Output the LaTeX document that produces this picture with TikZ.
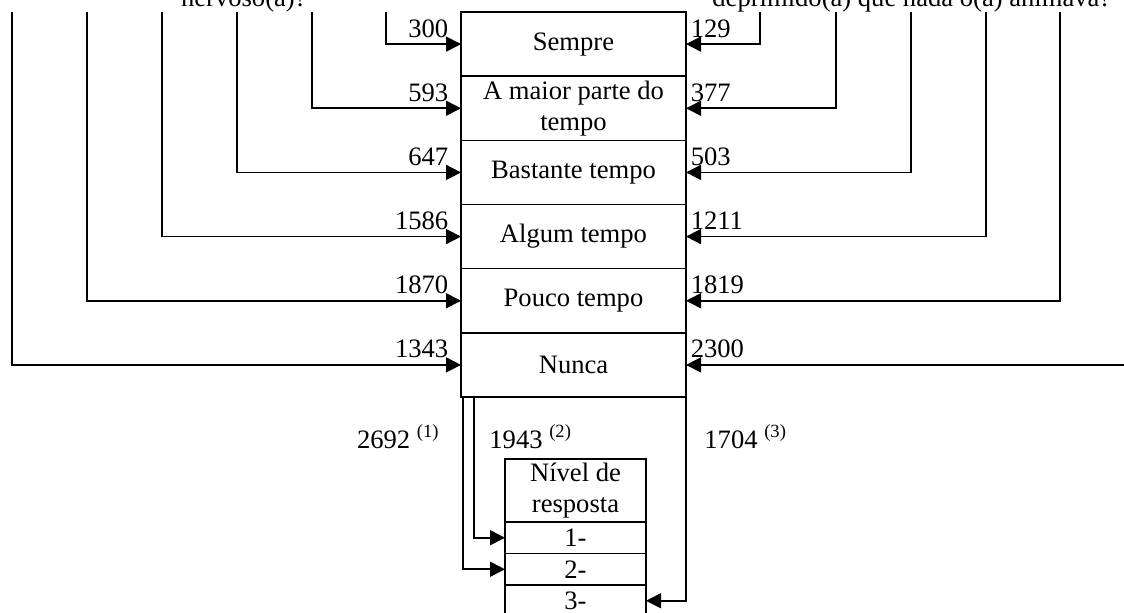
\documentclass[tikz,border=0pt]{standalone}
\usepackage{fontspec}
\setmainfont{Liberation Serif}
\usetikzlibrary{arrows.meta,positioning}
\newcommand{\txt}{\fontsize{13.3}{15.4}\selectfont}
\tikzset{
  cell/.style={
    rectangle, draw=black, line width=0.7pt, outer sep=0pt, inner sep=0pt,
    minimum width=112.5pt, minimum height=32.08pt,
    align=center, font=\txt
  },
  lvl/.style={cell, minimum width=70.5pt, minimum height=15.75pt},
  flow/.style={-{Triangle[length=7.5pt,width=7.5pt]}, line width=0.8pt, draw=black},
  numl/.style={font=\txt, inner xsep=6pt, inner ysep=3pt},
  numr/.style={font=\txt, inner xsep=2pt, inner ysep=3pt},
  note/.style={font=\txt, inner sep=0pt},
  quest/.style={font=\txt, inner sep=0pt}
}

\begin{document}
\begin{tikzpicture}[x=0.5pt, y=-0.5pt]
  \useasboundingbox (0,0) rectangle (1124,612);

  % Answer categories
  \node[cell] (sempre) at (573.5,44.1) {Sempre};
  \node[cell, below=0pt of sempre] (maior) {A maior parte do\\tempo};
  \node[cell, below=0pt of maior] (bastante) {Bastante tempo};
  \node[cell, below=0pt of bastante] (algum) {Algum tempo};
  \node[cell, below=0pt of algum] (pouco) {Pouco tempo};
  \node[cell, below=0pt of pouco] (nunca) {Nunca};

  % Questions (cut at the top)
  \node[quest, anchor=base east] (qleft) at (307,6) {nervoso(a)?};
  \node[quest, anchor=base west] (qright) at (712,6) {deprimido(a) que nada o(a) animava?};

  % Free ends of the feeder lines
  \coordinate (l1) at (386,12);
  \coordinate (l2) at (312,12);
  \coordinate (l3) at (237,12);
  \coordinate (l4) at (162,12);
  \coordinate (l5) at (87,12);
  \coordinate (l6) at (12,12);
  \coordinate (r1) at (760,12);
  \coordinate (r2) at (836,12);
  \coordinate (r3) at (911,12);
  \coordinate (r4) at (986,12);
  \coordinate (r5) at (1060,12);
  \coordinate (r6) at ([xshift=225pt]nunca.east);

  % Left question
  \draw[flow] (l1) |- (sempre.west) node[numl, above left] {300};
  \draw[flow] (l2) |- (maior.west) node[numl, above left] {593};
  \draw[flow] (l3) |- (bastante.west) node[numl, above left] {647};
  \draw[flow] (l4) |- (algum.west) node[numl, above left] {1586};
  \draw[flow] (l5) |- (pouco.west) node[numl, above left] {1870};
  \draw[flow] (l6) |- (nunca.west) node[numl, above left] {1343};

  % Right question
  \draw[flow] (r1) |- (sempre.east) node[numr, above right] {129};
  \draw[flow] (r2) |- (maior.east) node[numr, above right] {377};
  \draw[flow] (r3) |- (bastante.east) node[numr, above right] {503};
  \draw[flow] (r4) |- (algum.east) node[numr, above right] {1211};
  \draw[flow] (r5) |- (pouco.east) node[numr, above right] {1819};
  \draw[flow] (r6) -- (nunca.east) node[numr, above right] {2300};

  % Response levels
  \node[lvl, minimum height=31.5pt] (head) at (575.5,490.5) {Nível de\\resposta};
  \node[lvl, below=0pt of head] (lvl1) {1-};
  \node[lvl, below=0pt of lvl1] (lvl2) {2-};
  \node[lvl, below=0pt of lvl2] (lvl3) {3-};

  \draw[flow] ([xshift=1pt]nunca.south west) |- (lvl2.west);
  \draw[flow] ([xshift=6.5pt]nunca.south west) |- (lvl1.west);
  \draw[flow] (nunca.south east) |- (lvl3.east);

  \node[note, anchor=base east] (tot1) at (440,448) {2692 \textsuperscript{(1)}};
  \node[note, anchor=base west] (tot2) at (489,448) {1943 \textsuperscript{(2)}};
  \node[note, anchor=base west] (tot3) at (704,448) {1704 \textsuperscript{(3)}};
\end{tikzpicture}
\end{document}
